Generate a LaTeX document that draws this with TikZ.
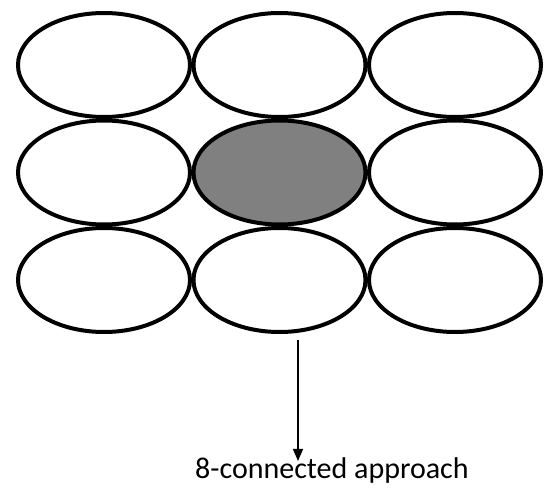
\documentclass[tikz,border=0pt]{standalone}
\usepackage{fontspec}
\setmainfont{Carlito}
\usepackage{tikz}
\usetikzlibrary{arrows.meta,positioning,shapes.geometric}
\tikzset{
  pixel/.style={
    draw=black,
    ellipse,
    line width=4pt,
    minimum width=172pt,
    minimum height=104pt,
    inner sep=0pt,
    outer sep=0pt,
    fill=white
  },
  seed/.style={pixel,fill=black!50},
  caption/.style={
    font=\fontsize{30}{36}\selectfont,
    inner sep=0pt,
    anchor=base west
  },
  pointer/.style={-{Triangle[length=12pt,width=10pt]},line width=1.4pt,shorten >=-4pt}
}
\begin{document}
\begin{tikzpicture}[x=1pt,y=-1pt,node distance=3.5pt]
  \useasboundingbox (0,0) rectangle (550,490);
  \node[pixel] (nw) at (104,65) {};
  \node[pixel,right=of nw] (n) {};
  \node[pixel,right=of n] (ne) {};
  \node[pixel,below=of nw] (w) {};
  \node[seed,right=of w] (c) {};
  \node[pixel,right=of c] (e) {};
  \node[pixel,below=of w] (sw) {};
  \node[pixel,right=of sw] (s) {};
  \node[pixel,right=of s] (se) {};
  \node[caption] (approach) at (195,478) {8-connected approach};
  \coordinate (tail) at (298,340);
  \draw[pointer] (tail) -- (tail |- approach.north);
\end{tikzpicture}
\end{document}
